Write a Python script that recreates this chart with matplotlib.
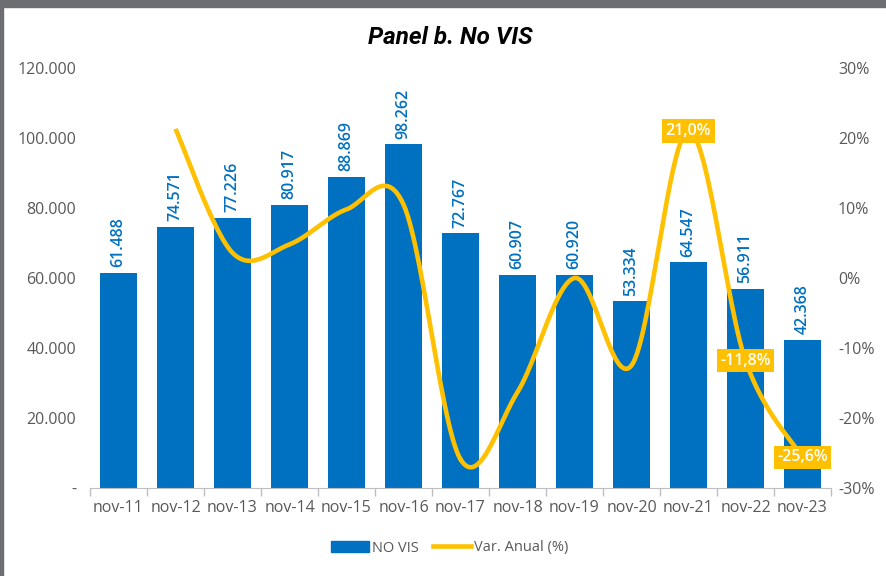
import numpy as np
import matplotlib
matplotlib.use("Agg")
import matplotlib.pyplot as plt
from matplotlib.patches import Rectangle
from matplotlib.lines import Line2D

# data
periodos = ["nov-11", "nov-12", "nov-13", "nov-14", "nov-15", "nov-16", "nov-17",
            "nov-18", "nov-19", "nov-20", "nov-21", "nov-22", "nov-23"]
no_vis = [61488, 74571, 77226, 80917, 88869, 98262, 72767,
          60907, 60920, 53334, 64547, 56911, 42368]
var_anual = [None, 21.3, 3.6, 4.8, 9.8, 10.5, -25.9,
             -16.3, 0.0, -12.5, 21.0, -11.8, -25.6]
etiquetas_var = {10: "21,0%", 11: "-11,8%", 12: "-25,6%"}

AZUL = "#0070c0"
AMARILLO = "#ffc000"
GRIS = "#595959"


def catmull_rom(xs, ys, n=30):
    # smooth curve through the points (like excel "smoothed line")
    px = [xs[0]] + list(xs) + [xs[-1]]
    py = [ys[0]] + list(ys) + [ys[-1]]
    out_x, out_y = [], []
    t = np.linspace(0, 1, n)
    for i in range(1, len(px) - 2):
        x0, x1, x2, x3 = px[i - 1], px[i], px[i + 1], px[i + 2]
        y0, y1, y2, y3 = py[i - 1], py[i], py[i + 1], py[i + 2]
        for a, b, c, d, o in ((x0, x1, x2, x3, out_x), (y0, y1, y2, y3, out_y)):
            o.extend(0.5 * (2 * b + (-a + c) * t + (2 * a - 5 * b + 4 * c - d) * t ** 2
                            + (-a + 3 * b - 3 * c + d) * t ** 3))
    return np.array(out_x), np.array(out_y)


fig = plt.figure(figsize=(8.86, 5.76), dpi=100)
ax = fig.add_axes([90 / 886, 1 - 488 / 576, (831 - 90) / 886, (488 - 68) / 576])
ax2 = ax.twinx()

x = np.arange(len(periodos))
ax.bar(x, no_vis, width=0.65, color=AZUL, zorder=2)
for xi, v in zip(x, no_vis):
    ax.annotate(f"{v:,}".replace(",", "."), (xi, v), xytext=(0, 4), textcoords="offset points",
                rotation=90, ha="center", va="bottom", color=AZUL, fontsize=11.5,
                family="Open Sans", fontweight="semibold")

ax.set_xlim(-0.5, len(periodos) - 0.5)
ax.set_ylim(0, 120000)
ax.set_yticks(np.arange(0, 120001, 20000))
ax.set_yticklabels(["-"] + [f"{v:,}".replace(",", ".") for v in range(20000, 120001, 20000)])
ax.set_xticks(x)
ax.set_xticklabels(periodos)
ax.set_xticks(np.arange(-0.5, len(periodos)), minor=True)
ax.tick_params(axis="x", which="major", length=0, pad=9)
ax.tick_params(axis="x", which="minor", length=6, color="#bfbfbf", width=1)
ax.tick_params(axis="y", length=0, pad=10)
for t in ax.get_xticklabels() + ax.get_yticklabels():
    t.set_family("Open Sans")
    t.set_color(GRIS)
    t.set_fontsize(11.5)
for s in ["top", "left", "right"]:
    ax.spines[s].set_visible(False)
    ax2.spines[s].set_visible(False)
ax.spines["bottom"].set_color("#bfbfbf")
ax2.spines["bottom"].set_visible(False)

# line
xs = [xi for xi, v in zip(x, var_anual) if v is not None]
ys = [v for v in var_anual if v is not None]
sx, sy = catmull_rom(xs, ys)
ax2.plot(sx, sy, color=AMARILLO, lw=3.3, solid_capstyle="butt", zorder=3)
for i, txt in etiquetas_var.items():
    ax2.text(x[i], var_anual[i], txt, ha="center", va="center", color="white",
             fontsize=11.5, family="Open Sans", fontweight="semibold", zorder=4,
             bbox=dict(boxstyle="square,pad=0.22", fc=AMARILLO, ec="none"))
ax2.set_ylim(-30, 30)
ax2.set_yticks(np.arange(-30, 31, 10))
ax2.set_yticklabels([f"{v}%" for v in range(-30, 31, 10)])
ax2.tick_params(axis="y", length=0, pad=5)
for t in ax2.get_yticklabels():
    t.set_family("Open Sans")
    t.set_color(GRIS)
    t.set_fontsize(11.5)

fig.text(450 / 886, 1 - 38 / 576, "Panel b. No VIS", ha="center", va="center",
         fontsize=17.5, family="Roboto", fontweight="bold", style="italic")

handles = [Rectangle((0, 0), 1, 1, color=AZUL),
           Line2D([0], [0], color=AMARILLO, lw=3.3)]
leg = fig.legend(handles, ["NO VIS", "Var. Anual (%)"], loc="center",
                 bbox_to_anchor=(450 / 886, 1 - 548 / 576), ncol=2, frameon=False,
                 prop={"family": "Open Sans", "size": 10.5}, handlelength=2.6,
                 handleheight=0.8, columnspacing=1.0, handletextpad=0.2)
for t in leg.get_texts():
    t.set_color(GRIS)

# grey frame
fig.patches.append(Rectangle((0, 1 - 7 / 576), 1, 7 / 576, transform=fig.transFigure,
                             color="#6d6e71", zorder=10))
fig.patches.append(Rectangle((0, 0), 3 / 886, 1, transform=fig.transFigure,
                             color="#6d6e71", zorder=10))

fig.savefig("out.png", dpi=100)
